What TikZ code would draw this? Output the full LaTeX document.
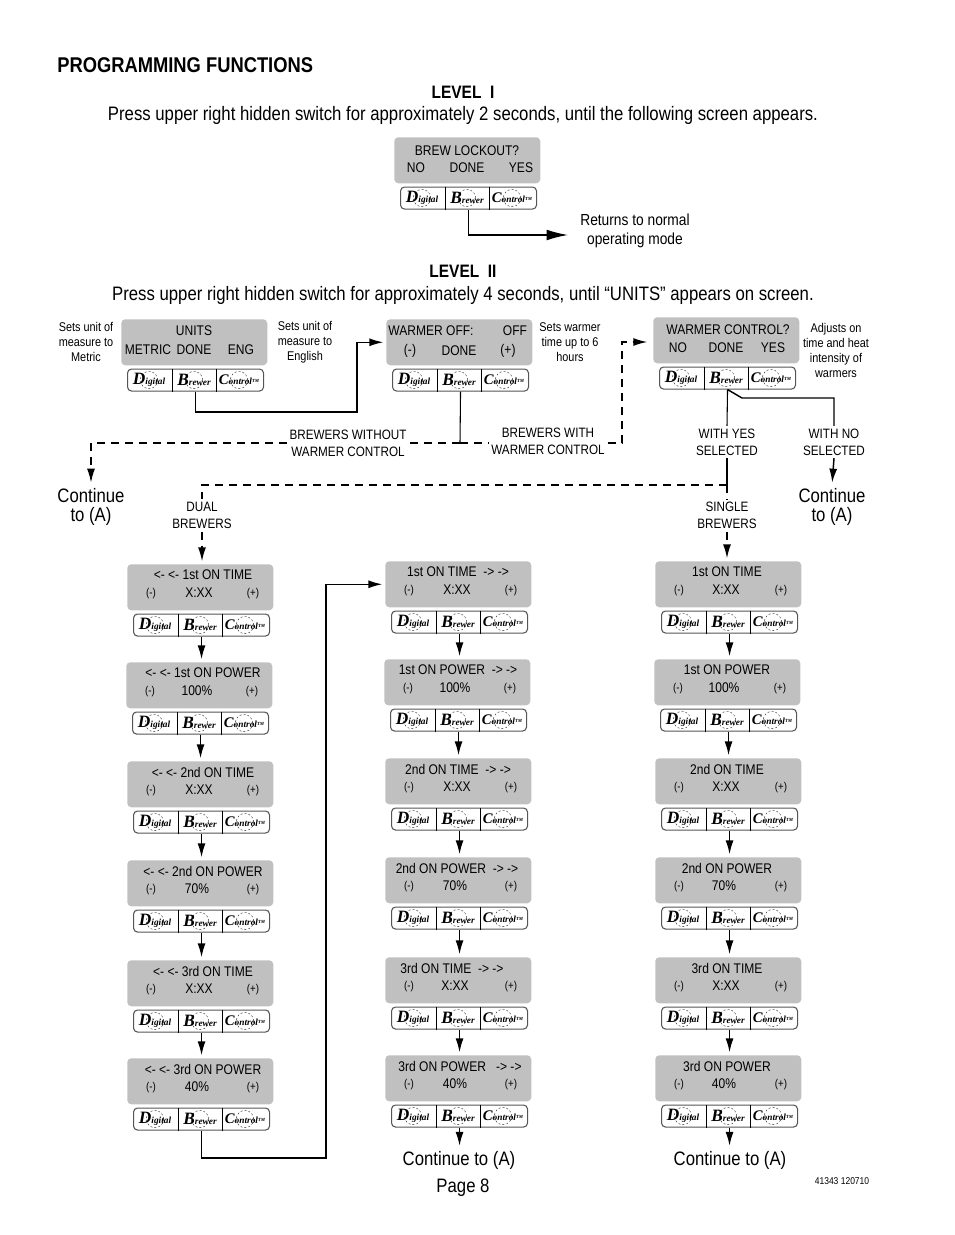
\documentclass[tikz,border=0pt]{standalone}
\usepackage{fontspec}
\setmainfont[FakeStretch=0.86]{Liberation Sans}
\newfontfamily\logofont{Liberation Serif}
\usetikzlibrary{calc}
\usetikzlibrary{arrows.meta}
\definecolor{lcdgray}{RGB}{192,192,192}
\definecolor{rimgray}{RGB}{85,85,85}
\tikzset{
	lcd/.style={rectangle, fill=lcdgray, rounded corners=3pt, anchor=north west, minimum width=109.5pt, minimum height=34.5pt},
	keypanel/.style={rectangle, draw=rimgray, line width=0.8pt, fill=white, rounded corners=3pt, anchor=north west, minimum width=102pt, minimum height=16.5pt},
	lcdline/.style={font=\fontsize{10.5}{12}\selectfont, inner sep=0pt},
	signline/.style={font=\fontsize{8.5}{12}\selectfont, inner sep=0pt},
	logo/.style={font=\logofont\bfseries\itshape, inner sep=0pt},
	note/.style={font=\fontsize{9.5}{11.25}\selectfont, align=center, inner sep=0pt},
	branch/.style={font=\fontsize{10.2}{12.5}\selectfont, align=center, inner sep=2pt},
	body/.style={font=\fontsize{14.6}{14.5}\selectfont, align=center, inner sep=2pt},
	level/.style={font=\fontsize{13.5}{16}\selectfont\bfseries, inner sep=0pt},
	flow/.style={draw, line width=1.1pt, -{Latex[length=10.5pt,width=6pt]}, shorten >=2pt},
	bigflow/.style={draw, line width=1.1pt, -{Latex[length=16pt,width=8pt]}},
	link/.style={draw, line width=0.8pt},
	linkdash/.style={draw, line width=1.1pt, dash pattern=on 6pt off 4.5pt},
	flowdash/.style={flow, dash pattern=on 6pt off 4.5pt}
}

\newcommand{\keypad}[3]{
	\node[keypanel] (#1) at (#2,#3) {};
	\draw ($(#1.north west)+(45,0)$) -- ($(#1.south west)+(45,0)$);
	\draw ($(#1.north west)+(89,0)$) -- ($(#1.south west)+(89,0)$);
	\node[logo] (#1-d) at ($(#1.west)+(22,0)$)
		{\fontsize{13}{11}\selectfont D\fontsize{7}{11}\selectfont igital};
	\node[logo] (#1-b) at ($(#1.west)+(67,0)$)
		{\fontsize{13}{11}\selectfont B\fontsize{7}{11}\selectfont rewer};
	\node[logo] (#1-c) at ($(#1.west)+(112,0)$)
		{\fontsize{11}{11}\selectfont C\fontsize{7}{11}\selectfont ontrol\raisebox{2pt}{\fontsize{3.5}{4}\selectfont TM}};
	\draw[line width=0.25pt, dash pattern=on 1.5pt off 1.5pt]
		(#1-d) circle [radius=6.5pt] (#1-b) circle [radius=6.5pt] (#1-c) circle [radius=6.5pt];
}

\newcommand{\screen}[3]{
	\node[lcd] (#1) at (#2,#3) {};
	\keypad{#1-k}{#2+6}{#3+49.5}
}

\newcommand{\lcdtext}[4]{
	\node[lcdline] (#1-#2-#3) at ($(#1.north west)+(#2,#3)$) {#4};
}

\newcommand{\setting}[7]{
	\screen{#1}{#2}{#3}
	\lcdtext{#1}{#5}{11}{#4}
	\lcdtext{#1}{#7}{29}{#6}
	\node[signline] (#1-m) at ($(#1.north west)+(24,30)$) {(-)};
	\node[signline] (#1-p) at ($(#1.north west)+(126,30)$) {(+)};
}

\begin{document}
\begin{tikzpicture}[x=0.75pt, y=-0.75pt]

\useasboundingbox (0,0) rectangle (954,1235);

\node[level, font=\fontsize{16}{16}\selectfont\bfseries, anchor=west] (heading) at (57,65)
	{PROGRAMMING FUNCTIONS};
\node[level] (levelone) at (463,92) {LEVEL\ \ I};
\node[body] (pressone) at (463,115.5)
	{Press upper right hidden switch for approximately 2 seconds, until the following screen appears.};
\node[level] (leveltwo) at (463,271) {LEVEL\ \ II};
\node[body] (presstwo) at (463,295.5)
	{Press upper right hidden switch for approximately 4 seconds, until “UNITS” appears on screen.};

\screen{lockout}{394}{137}
\lcdtext{lockout}{73}{14}{BREW LOCKOUT?}
\lcdtext{lockout}{22}{31}{NO}
\lcdtext{lockout}{73}{31}{DONE}
\lcdtext{lockout}{127}{31}{YES}
\coordinate (retin) at (568,235);
\node[note, font=\fontsize{12}{14}\selectfont] (returns) at (635,231) {Returns to normal\\operating mode};

\screen{units}{121}{319}
\lcdtext{units}{73}{12}{UNITS}
\lcdtext{units}{27}{31}{METRIC}
\lcdtext{units}{73}{31}{DONE}
\lcdtext{units}{120}{31}{ENG}
\node[note] (metric) at (86,342) {Sets unit of\\measure to\\Metric};
\node[note] (english) at (305,342) {Sets unit of\\measure to\\English};

\screen{warmer}{386}{319}
\lcdtext{warmer}{45}{12}{WARMER OFF:}
\lcdtext{warmer}{129}{12}{OFF}
\lcdtext{warmer}{24}{32}{(-)}
\lcdtext{warmer}{73}{32}{DONE}
\lcdtext{warmer}{122}{32}{(+)}
\node[note] (sixhours) at (570,342) {Sets warmer\\time up to 6\\hours};

\screen{control}{653}{317}
\lcdtext{control}{75}{13}{WARMER CONTROL?}
\lcdtext{control}{25}{31}{NO}
\lcdtext{control}{73}{31}{DONE}
\lcdtext{control}{120}{31}{YES}
\node[note] (adjusts) at (836,350) {Adjusts on\\time and heat\\intensity of\\warmers};

\node[branch] (nowarmer) at (348,443) {BREWERS WITHOUT\\WARMER CONTROL};
\node[branch] (withwarmer) at (548,441) {BREWERS WITH\\WARMER CONTROL};
\node[branch] (withyes) at (727,442) {WITH YES\\SELECTED};
\node[branch] (withno) at (834,442) {WITH NO\\SELECTED};
\node[branch] (dual) at (202,515.5) {DUAL\\BREWERS};
\node[branch] (single) at (727,515.5) {SINGLE\\BREWERS};
\node[body] (contleft) at (91,507) {Continue\\to (A)};
\node[body] (contright) at (832,507) {Continue\\to (A)};

\setting{dualA}{127}{564}{<- <- 1st ON TIME}{76}{X:XX}{72}
\setting{dualB}{126}{662}{<- <- 1st ON POWER}{77}{100\%}{71}
\setting{dualC}{127}{761}{<- <- 2nd ON TIME}{76}{X:XX}{72}
\setting{dualD}{127}{860}{<- <- 2nd ON POWER}{76}{70\%}{70}
\setting{dualE}{127}{960}{<- <- 3rd ON TIME}{76}{X:XX}{72}
\setting{dualF}{127}{1058}{<- <- 3rd ON POWER}{76}{40\%}{70}

\setting{backA}{385}{561}{1st ON TIME\ \ -> ->}{73}{X:XX}{72}
\setting{backB}{384}{659}{1st ON POWER\ \ -> ->}{74}{100\%}{71}
\setting{backC}{385}{758}{2nd ON TIME\ \ -> ->}{73}{X:XX}{72}
\setting{backD}{385}{857}{2nd ON POWER\ \ -> ->}{72}{70\%}{70}
\setting{backE}{385}{957}{3rd ON TIME\ \ -> ->}{67}{X:XX}{70}
\setting{backF}{385}{1055}{3rd ON POWER\ \ \ -> ->}{75}{40\%}{70}

\setting{oneA}{655}{561}{1st ON TIME}{72}{X:XX}{71}
\setting{oneB}{654}{659}{1st ON POWER}{73}{100\%}{70}
\setting{oneC}{655}{758}{2nd ON TIME}{72}{X:XX}{71}
\setting{oneD}{655}{857}{2nd ON POWER}{72}{70\%}{69}
\setting{oneE}{655}{957}{3rd ON TIME}{72}{X:XX}{71}
\setting{oneF}{655}{1055}{3rd ON POWER}{72}{40\%}{69}

\node[body] (contback) at (459,1160.5) {Continue to (A)};
\node[body] (contone) at (730,1160.5) {Continue to (A)};
\node[body] (page) at (463,1187.5) {Page 8};
\node[note, font=\fontsize{7.4}{8}\selectfont] (partno) at (842,1181) {41343 120710};

\draw [bigflow] (lockout-k.south) |- (retin);

\coordinate (unitsturn) at (357,412);
\draw [flow] (units-k.south) |- (unitsturn) |- (warmer.west);

\coordinate (warmerjoin) at (460,443);
\draw [link] (warmer-k.south) -- (warmerjoin);
\draw [linkdash] (warmerjoin) -- (nowarmer.east);
\draw [flowdash] (nowarmer.west) -| (contleft.north);
\draw [linkdash] (warmerjoin) -- (withwarmer.west |- warmerjoin);
\coordinate (controlturn) at (622,342);
\coordinate (controlin) at (650,342);
\draw [flowdash] (withwarmer.east |- warmerjoin) -| (controlturn) -- (controlin);

\coordinate (nobend) at (742,398);
\coordinate (nocorner) at (834,398);
\draw [link] (control-k.south) -- (withyes.north);
\draw [link, line width=1.1pt] (control-k.south) -- (nobend) -- (nocorner) -- (withno.north);
\draw [flow] (withno.south) -- (contright.north);

\coordinate (yesjoin) at (727,485);
\coordinate (dualturn) at (202,485);
\draw [link] (withyes.south) -- (yesjoin);
\draw [linkdash] (yesjoin) -- (dualturn) -- (dual.north);
\draw [linkdash] (yesjoin) -- (single.north);
\draw [flowdash] (dual.south) -- (dualA.north -| dual.south);
\draw [flowdash] (single.south) -- (oneA.north -| single.south);

\foreach \upper/\lower in {dualA/dualB, dualB/dualC, dualC/dualD, dualD/dualE, dualE/dualF,
	backA/backB, backB/backC, backC/backD, backD/backE, backE/backF,
	oneA/oneB, oneB/oneC, oneC/oneD, oneD/oneE, oneE/oneF}
	\draw [flow] (\upper-k.south) -- (\upper-k.south |- \lower.north);

\coordinate (crossturn) at (326,1158);
\draw [flow] (dualF-k.south) |- (crossturn) |- (backA.west);

\draw [flow] (backF-k.south) -- (backF-k.south |- contback.north);
\draw [flow] (oneF-k.south) -- (oneF-k.south |- contone.north);

\end{tikzpicture}
\end{document}
